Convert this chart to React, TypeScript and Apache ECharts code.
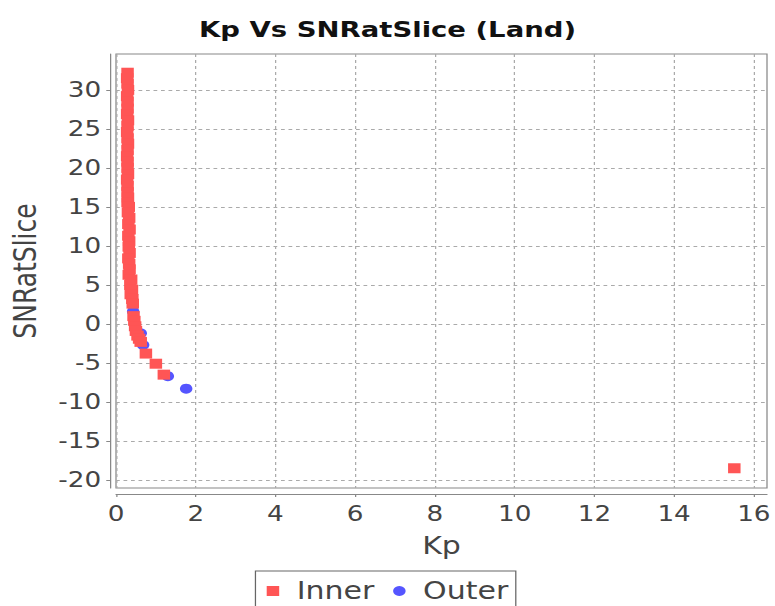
import React, { useEffect, useRef } from "react";
import * as echarts from "echarts";

// Kp (x) vs SNRatSlice (y)
const innerPoints: number[][] = [
  [0.29, 32.2], [0.28, 31.5], [0.29, 30.8], [0.3, 30.0], [0.28, 29.2], [0.29, 28.5],
  [0.29, 27.6], [0.28, 26.9], [0.3, 26.1], [0.29, 25.4], [0.28, 24.6], [0.29, 23.8],
  [0.3, 23.1], [0.29, 22.3], [0.28, 21.5], [0.29, 20.8], [0.29, 20.0], [0.3, 19.2],
  [0.28, 18.5], [0.29, 17.7], [0.29, 16.9], [0.3, 16.2], [0.29, 15.6],
  [0.32, 15.0], [0.3, 14.3], [0.33, 13.6], [0.31, 12.8], [0.34, 12.1], [0.31, 11.3],
  [0.33, 10.6], [0.32, 9.9], [0.34, 9.1], [0.31, 8.4], [0.33, 7.7], [0.34, 7.0], [0.32, 6.3],
  [0.38, 5.7], [0.36, 5.0], [0.4, 4.4], [0.37, 3.8], [0.41, 3.2], [0.42, 2.6],
  [0.44, 1.0], [0.46, 0.4], [0.48, -0.3], [0.5, -0.9], [0.54, -1.5], [0.58, -1.9],
  [0.62, -2.3], [0.75, -3.8], [1.0, -5.1], [1.2, -6.5], [15.51, -18.5],
];
const outerPoints: number[][] = [
  [0.43, 1.6], [0.62, -1.2], [0.68, -2.7], [1.3, -6.7], [1.76, -8.3],
];
const kpTicks = [0, 2, 4, 6, 8, 10, 12, 14, 16];
const snrTicks = [-20, -15, -10, -5, 0, 5, 10, 15, 20, 25, 30];

const FONT = "DejaVu Sans";

export default function App() {
  const ref = useRef<HTMLDivElement>(null);
  useEffect(() => {
    if (!ref.current) return;
    const chart = echarts.init(ref.current, null, { renderer: "svg" });
    chart.setOption({
      animation: false,
      backgroundColor: "#ffffff",
      title: {
        text: "Kp Vs SNRatSlice (Land)",
        left: "center",
        top: 13,
        textStyle: { fontFamily: FONT, fontSize: 22, fontWeight: "bold", color: "#111" },
      },
      legend: {
        data: [
          { name: "Inner", icon: "rect" },
          { name: "Outer", icon: "circle" },
        ],
        left: "center",
        top: 571,
        itemWidth: 10,
        itemHeight: 10,
        itemGap: 15,
        padding: [8, 6, 12, 9],
        borderColor: "#666",
        borderWidth: 1,
        textStyle: { fontFamily: FONT, fontSize: 24, color: "#444", padding: [0, 0, 0, 9] },
      },
      grid: { left: 92.8, right: 6.4, top: 54, bottom: 118, show: true, borderColor: "#888", borderWidth: 1, backgroundColor: "#fff" },
      xAxis: {
        type: "value",
        min: 0,
        max: 16.33,
        offset: 6,
        name: "Kp",
        nameLocation: "middle",
        nameGap: 40,
        nameTextStyle: { fontFamily: FONT, fontSize: 24, color: "#444" },
        axisLine: { show: true, onZero: false, lineStyle: { color: "#888", width: 1 } },
        axisTick: { show: true, length: 3, lineStyle: { color: "#888" }, customValues: kpTicks },
        axisLabel: { fontFamily: FONT, fontSize: 21, color: "#444", margin: 9, customValues: kpTicks },
        splitLine: { show: true, lineStyle: { color: "#aaa", type: [3, 3], width: 1 } },
      },
      yAxis: {
        type: "value",
        min: -21.03,
        max: 34.6,
        offset: 4.8,
        name: "SNRatSlice",
        nameLocation: "middle",
        nameGap: 55,
        nameMoveOverlap: false,
        nameTextStyle: { fontFamily: FONT, fontSize: 25, color: "#444" },
        axisLine: { show: true, onZero: false, lineStyle: { color: "#888", width: 1 } },
        axisTick: { show: true, length: 3, lineStyle: { color: "#888" }, customValues: snrTicks },
        axisLabel: { fontFamily: FONT, fontSize: 21, color: "#444", margin: 7, customValues: snrTicks },
        splitLine: { show: true, lineStyle: { color: "#aaa", type: [3, 3], width: 1 } },
      },
      series: [
        {
          name: "Outer",
          type: "scatter",
          symbol: "circle",
          symbolSize: 10,
          z: 2,
          itemStyle: { color: "#5555FF", opacity: 1 },
          data: outerPoints,
        },
        {
          name: "Inner",
          type: "scatter",
          symbol: "rect",
          symbolSize: 10,
          z: 3,
          itemStyle: { color: "#FF5555", opacity: 1 },
          data: innerPoints,
        },
      ],
    });
    return () => chart.dispose();
  }, []);
  return (
    <div
      ref={ref}
      style={{
        position: "absolute",
        left: 0,
        top: 0,
        width: 620,
        height: 606,
        transform: "scaleX(1.25)",
        transformOrigin: "0 0",
      }}
    />
  );
}
